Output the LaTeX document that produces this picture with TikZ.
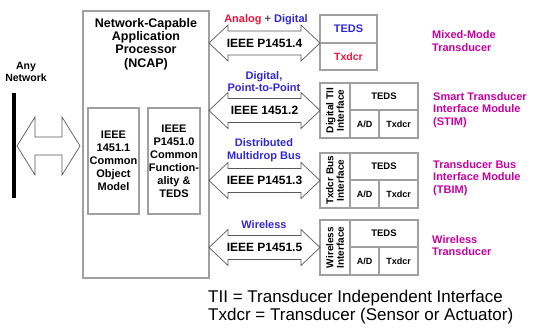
\documentclass[tikz,border=0pt]{standalone}
\usepackage{fontspec}
\setmainfont{Liberation Sans}
\usetikzlibrary{calc}

\definecolor{sigred}{RGB}{240,20,60}
\definecolor{sigblue}{RGB}{50,40,210}
\definecolor{modmag}{RGB}{200,0,160}
\definecolor{boxgray}{RGB}{160,160,160}

\tikzset{
  frame/.style={draw=boxgray, line width=2.5pt, outer sep=0pt},
  inbox/.style={draw=boxgray, line width=1.5pt, inner sep=0pt, align=center,
    font=\bfseries\fontsize{11}{13}\selectfont},
  cell/.style={draw=boxgray, line width=1.2pt, inner sep=0pt, outer sep=0pt,
    font=\bfseries\fontsize{9}{10}\selectfont},
  arrowline/.style={draw=black!65, line width=0.7pt, fill=white},
  ttl/.style={align=center, font=\bfseries\fontsize{12.5}{13.3}\selectfont},
  ieee/.style={font=\bfseries\fontsize{12}{13}\selectfont},
  sig/.style={text=sigblue, align=center, font=\bfseries\fontsize{11}{12.5}\selectfont},
  modlabel/.style={text=modmag, anchor=west, align=left, inner sep=0pt,
    font=\bfseries\fontsize{11}{12.8}\selectfont}
}

% block arrow with two heads: from, to, shaft half, head half, head length
\newcommand{\dblarrow}[5]{%
  \draw[arrowline] let \p1=(#1), \p2=(#2) in
    (\x1,\y2) -- ({\x1+#5pt},{\y2+#4pt}) -- ({\x1+#5pt},{\y2+#3pt})
    -- ({\x2-#5pt},{\y2+#3pt}) -- ({\x2-#5pt},{\y2+#4pt}) -- (\x2,\y2)
    -- ({\x2-#5pt},{\y2-#4pt}) -- ({\x2-#5pt},{\y2-#3pt})
    -- ({\x1+#5pt},{\y2-#3pt}) -- ({\x1+#5pt},{\y2-#4pt}) -- cycle;}

\begin{document}
\begin{tikzpicture}[x=1pt,y=-1pt]
  \useasboundingbox (0,0) rectangle (538,327);

  % network side
  \node[align=center, font=\bfseries\fontsize{10.5}{11.5}\selectfont] (net) at (26,72) {Any\\Network};
  \coordinate (netT) at (14,93);
  \coordinate (netB) at (14,198);
  \draw[line width=4pt] (netT) -- (netB);
  \coordinate (netL) at (17,146);
  \coordinate (netR) at (80,146);
  \dblarrow{netL}{netR}{9}{29}{18}

  % NCAP
  \node[frame, minimum width=126pt, minimum height=267pt] (ncap) at (146,144.5) {};
  \node[ttl] (ncapttl) at (146,44) {Network-Capable\\Application\\Processor\\(NCAP)};
  \node[inbox, minimum width=51pt, minimum height=106pt] (obj) at (113.5,161)
    {IEEE\\1451.1\\Common\\Object\\Model};
  \node[inbox, minimum width=52pt, minimum height=106pt] (fteds) at (174,161)
    {IEEE\\P1451.0\\Common\\Function-\\ality \&\\TEDS};

  % mixed-mode transducer
  \node[cell, text=sigblue, font=\bfseries\fontsize{11}{12}\selectfont,
    minimum width=57pt, minimum height=28pt, anchor=north west] (mm-teds) at (320,15) {TEDS};
  \node[cell, text=sigred, font=\bfseries\fontsize{10.5}{12}\selectfont,
    minimum width=57pt, minimum height=27pt, anchor=north west] (mm-tx) at (mm-teds.south west) {Txdcr};
  \draw[frame] (mm-teds.north west) rectangle (mm-tx.south east);

  % modules
  \foreach \nm/\yt/\ifc in {stim/83/{Digital TII\\Interface},
      tbim/153/{Txdcr Bus\\Interface}, wl/220/{Wireless\\Interface}}{
    \node[cell, minimum width=30pt, minimum height=55pt, anchor=north west] (\nm-if) at (320,\yt) {};
    \node[rotate=90, align=center, font=\bfseries\fontsize{10}{10.5}\selectfont] (\nm-iftxt) at (\nm-if) {\ifc};
    \node[cell, font=\bfseries\fontsize{9.5}{10}\selectfont, minimum width=68pt, minimum height=27pt,
      anchor=north west] (\nm-teds) at (\nm-if.north east) {TEDS};
    \node[cell, minimum width=29pt, minimum height=28pt, anchor=north west] (\nm-ad) at (\nm-teds.south west) {A/D};
    \node[cell, minimum width=39pt, minimum height=28pt, anchor=north west] (\nm-tx) at (\nm-ad.north east) {Txdcr};
    \draw[frame] (\nm-if.north west) rectangle (\nm-tx.south east);
  }

  % links
  \dblarrow{ncap.east}{mm-teds.south west}{12}{18}{19}
  \dblarrow{ncap.east}{stim-if.west}{12}{18}{19}
  \dblarrow{ncap.east}{tbim-if.west}{12}{18}{19}
  \dblarrow{ncap.east}{wl-if.west}{12}{18}{19}
  \node[ieee] (p4) at (264.5,43) {IEEE P1451.4};
  \node[ieee] (p2) at (264.5,110.5) {IEEE 1451.2};
  \node[ieee] (p3) at (264.5,180) {IEEE P1451.3};
  \node[ieee] (p5) at (264.5,247.5) {IEEE P1451.5};

  \node[sig] (s4) at (266,20) {\textcolor{sigred}{Analog} \textcolor{black!70}{+} Digital};
  \node[sig] (s2) at (264,81.5) {Digital,\\Point-to-Point};
  \node[sig] (s3) at (264,150) {Distributed\\Multidrop Bus};
  \node[sig] (s5) at (264,225) {Wireless};

  \node[modlabel] (mmlbl) at (432,41) {Mixed-Mode\\Transducer};
  \node[modlabel] (stimlbl) at (433,110) {Smart Transducer\\Interface Module\\(STIM)};
  \node[modlabel] (tbimlbl) at (433,178) {Transducer Bus\\Interface Module\\(TBIM)};
  \node[modlabel] (wllbl) at (432,245.5) {Wireless\\Transducer};

  \node[anchor=west, align=left, inner sep=0pt, font=\fontsize{17}{18}\selectfont] (notes) at (208,307)
    {TII = Transducer Independent Interface\\Txdcr = Transducer (Sensor or Actuator)};
\end{tikzpicture}
\end{document}
